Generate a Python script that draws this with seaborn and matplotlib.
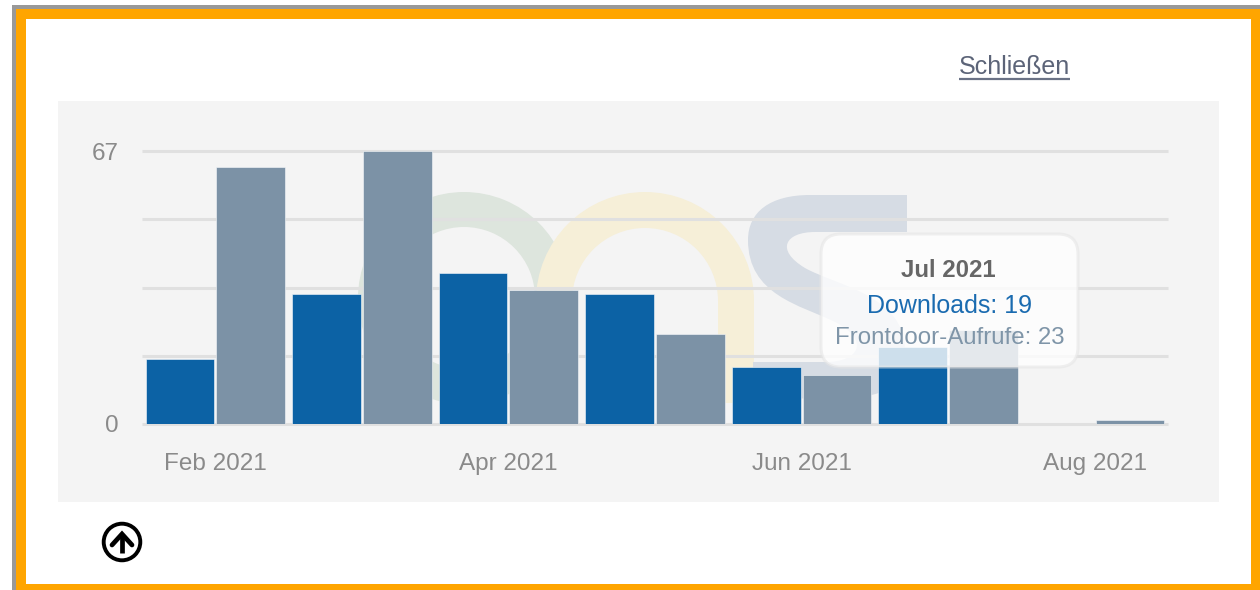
import matplotlib
matplotlib.use("Agg")
import matplotlib.pyplot as plt
import pandas as pd
import seaborn as sns
from matplotlib.patches import Circle, FancyBboxPatch, PathPatch, Rectangle, Wedge
from matplotlib.path import Path

months = ["Feb 2021", "Mar 2021", "Apr 2021", "May 2021", "Jun 2021", "Jul 2021", "Aug 2021"]
downloads = [16, 32, 37, 32, 14, 19, 0]
frontdoor = [63, 67, 33, 22, 12, 23, 1]
shown_months = ["Feb 2021", "", "Apr 2021", "", "Jun 2021", "", "Aug 2021"]
series_names = ["Downloads", "Frontdoor-Aufrufe"]

BLUE = "#0c62a5"
SLATE = "#7c92a6"
W, H = 1260, 590

sns.set_theme(style="white")
plt.rcParams["font.family"] = ["Liberation Sans", "DejaVu Sans"]
plt.rcParams["lines.solid_capstyle"] = "butt"

fig = plt.figure(figsize=(W / 100, H / 100), dpi=100, facecolor="white")


def pixel_axes(zorder):
    layer = fig.add_axes([0, 0, 1, 1], zorder=zorder)
    layer.set_xlim(0, W)
    layer.set_ylim(H, 0)
    layer.axis("off")
    return layer


# Page frame, grey panel and the faded logo behind the bars
back = pixel_axes(0)
back.add_patch(Rectangle((12, 5), W - 12, H - 5, fc="#999999", ec="none"))
back.add_patch(Rectangle((16, 9), W - 16, H - 9, fc="#ffa500", ec="none"))
back.add_patch(Rectangle((26, 19), 1225, 565, fc="white", ec="none"))
back.add_patch(Rectangle((58, 101), 1161, 401, fc="#f4f4f4", ec="none"))

green = "#dde5dd"
yellow = "#f6efd8"
steel = "#d6dce4"
back.add_patch(Wedge((464, 298), 106, 0, 360, width=35, fc=green, ec="none"))
back.add_patch(Wedge((645, 301), 109, 180, 360, width=36, fc=yellow, ec="none"))
back.add_patch(Rectangle((536, 301), 36, 102, fc=yellow, ec="none"))
back.add_patch(Rectangle((718, 301), 36, 102, fc=yellow, ec="none"))

s_codes = [Path.MOVETO, Path.LINETO, Path.LINETO,
           Path.CURVE4, Path.CURVE4, Path.CURVE4,
           Path.CURVE4, Path.CURVE4, Path.CURVE4,
           Path.CURVE4, Path.CURVE4, Path.CURVE4,
           Path.LINETO, Path.LINETO,
           Path.LINETO,
           Path.CURVE4, Path.CURVE4, Path.CURVE4,
           Path.CURVE4, Path.CURVE4, Path.CURVE4,
           Path.CURVE4, Path.CURVE4, Path.CURVE4,
           Path.CLOSEPOLY]
s_verts = [(907, 195), (907, 232), (815, 232),
           (785, 232), (775, 250), (805, 268),
           (835, 285), (905, 295), (905, 350),
           (905, 385), (885, 397), (850, 397),
           (753, 400), (753, 362),
           (825, 362),
           (860, 362), (870, 340), (835, 322),
           (800, 305), (748, 295), (748, 240),
           (748, 212), (770, 195), (810, 195),
           (907, 195)]
back.add_patch(PathPatch(Path(s_verts, s_codes), fc=steel, ec="none"))

# Monthly bars
table = pd.DataFrame({
    "month": months * 2,
    "count": downloads + frontdoor,
    "series": [series_names[0]] * len(months) + [series_names[1]] * len(months),
})

ax = fig.add_axes([142 / W, 1 - 424 / H, 1026 / W, 273 / H], zorder=1)
ax.patch.set_alpha(0)
sns.barplot(
    data=table, x="month", y="count", hue="series", order=months,
    hue_order=series_names, palette=[BLUE, SLATE], width=0.965, gap=0.03,
    saturation=1, legend=False, ax=ax, zorder=3, edgecolor="#f7f9fb", linewidth=0.4,
)
ax.set_xlim(-0.5, len(months) - 0.5)
ax.set_ylim(0, 67)
ax.set_xlabel("")
ax.set_ylabel("")
ax.set_yticks([0, 67])
ax.set_yticks([67 * 0.25, 67 * 0.5, 67 * 0.75], minor=True)
ax.set_xticks(range(len(months)))
ax.set_xticklabels(shown_months)
ax.tick_params(axis="both", which="both", length=0)
ax.tick_params(axis="y", labelsize=17.5, labelcolor="#8a8a8a", pad=17)
ax.tick_params(axis="x", labelsize=17.5, labelcolor="#8a8a8a", pad=21)
ax.set_axisbelow(True)
ax.grid(axis="y", which="both", color="#e0e0e0", linewidth=2.2, clip_on=False)
sns.despine(ax=ax, left=True, bottom=True)

# Link, hover box and the round up-arrow
front = pixel_axes(2)
front.text(1014.5, 67.5, "Schließen", ha="center", va="center", fontsize=18, color="#5c6478")
front.plot([959, 1070], [78.5, 78.5], color="#6a7286", lw=1.6)

front.add_patch(FancyBboxPatch(
    (835, 248), 229, 105, boxstyle="round,pad=14,rounding_size=20",
    fc=(1, 1, 1, 0.8), ec=(0.9, 0.9, 0.9, 0.6), lw=2.2,
))
front.text(948, 270.5, "Jul 2021", ha="center", va="center", fontsize=17.3,
           fontweight="bold", color="#666666")
front.text(949.5, 306, "Downloads: 19", ha="center", va="center", fontsize=18, color="#1a6bb0")
front.text(949.5, 338, "Frontdoor-Aufrufe: 23", ha="center", va="center", fontsize=17.3, color="#7f95a8")

front.add_patch(Circle((122, 542), 18.3, fc="white", ec="black", lw=2.8))
front.plot([122, 122], [553, 534], color="black", lw=3.4)
front.plot([112, 122, 132], [545, 534, 545], color="black", lw=3.4,
           solid_joinstyle="miter", solid_capstyle="round")

fig.savefig("out.png", dpi=100, facecolor="white")
